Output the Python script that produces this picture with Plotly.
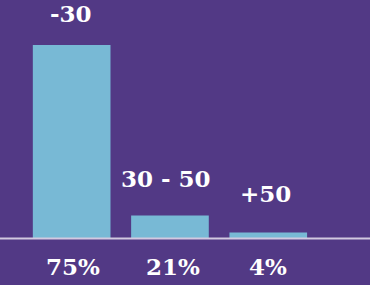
import plotly.graph_objects as go

categories = ["-30", "30 - 50", "+50"]
bar_values = [75, 8.9, 2.3]
share_labels = ["75%", "21%", "4%"]

BG = "#523985"
BAR = "#78b9d5"
FONT = "DejaVu Serif"

x_pos = list(range(len(categories)))

fig = go.Figure()
fig.add_trace(go.Bar(
    x=x_pos, y=bar_values, width=0.79,
    marker=dict(color=BAR, line=dict(width=0)),
    hoverinfo="skip",
))

top_yshift = [16, 22, 24]
top_xshift = [-1, -4, -3]
bot_xshift = [1, 3, 0]
for i, (c, v) in enumerate(zip(categories, bar_values)):
    fig.add_annotation(x=i, y=v, text=f"<b>{c}</b>", showarrow=False,
                       yanchor="bottom", yshift=top_yshift[i], xshift=top_xshift[i],
                       font=dict(family=FONT, size=23, color="white"))
    fig.add_annotation(x=i, y=0, text=f"<b>{share_labels[i]}</b>", showarrow=False,
                       yanchor="top", yshift=-12, xshift=bot_xshift[i],
                       font=dict(family=FONT, size=23, color="white"))

fig.add_shape(type="line", xref="paper", x0=0, x1=1, yref="y", y0=0, y1=0,
              line=dict(color="#d2c9e0", width=2), layer="above")

fig.update_layout(
    width=370, height=285,
    margin=dict(l=0, r=0, t=0, b=0),
    paper_bgcolor=BG, plot_bgcolor=BG,
    showlegend=False,
    xaxis=dict(range=[-0.729, 3.035], visible=False, fixedrange=True),
    yaxis=dict(range=[-18.02, 92.44], visible=False, fixedrange=True),
)

fig.write_html("out.html", config={"displayModeBar": False},
               post_script="document.body.style.margin='0';document.body.style.background='" + BG + "';")
